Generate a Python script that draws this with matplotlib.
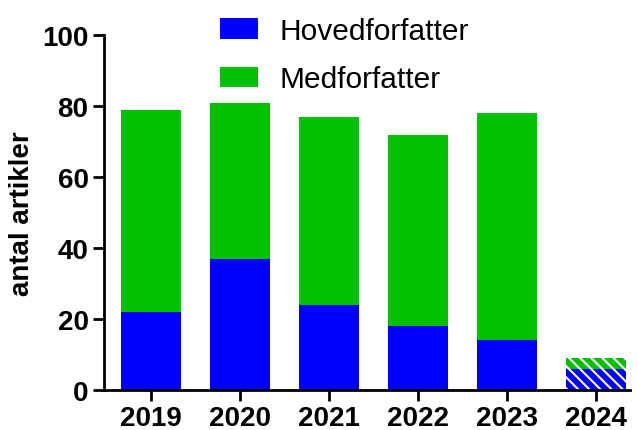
import matplotlib
matplotlib.use("Agg")
import matplotlib.pyplot as plt
import numpy as np

plt.rcParams['font.family'] = ['Liberation Sans', 'DejaVu Sans']
plt.rcParams['hatch.color'] = 'white'
plt.rcParams['hatch.linewidth'] = 1.5

years = ['2019', '2020', '2021', '2022', '2023', '2024']
hoved = [22, 37, 24, 18, 14, 6]
med = [57, 44, 53, 54, 64, 3]
blue = '#0000ff'
green = '#00c000'

fig = plt.figure(figsize=(6.37, 4.31), dpi=100)
ax = fig.add_axes([0.163, 0.093, 0.826, 0.823])

x = np.arange(len(years))
w = 0.68
hatches = [None] * 5 + ['\\\\\\']
for i in range(len(years)):
    ax.bar(x[i], hoved[i], w, color=blue, hatch=hatches[i], linewidth=0,
           label='Hovedforfatter' if i == 0 else None)
    ax.bar(x[i], med[i], w, bottom=hoved[i], color=green, hatch=hatches[i], linewidth=0,
           label='Medforfatter' if i == 0 else None)

ax.set_xlim(-0.53, 5.38)
ax.set_ylim(0, 100)
ax.set_yticks([0, 20, 40, 60, 80, 100])
ax.set_xticks(x)
ax.set_xticklabels(years)
ax.set_ylabel('antal artikler', fontsize=20, fontweight='bold', labelpad=5)
for lab in ax.get_xticklabels() + ax.get_yticklabels():
    lab.set_fontweight('bold')
ax.tick_params(axis='both', labelsize=20, width=2, length=8, direction='out', pad=3)
ax.spines['top'].set_visible(False)
ax.spines['right'].set_visible(False)
ax.spines['left'].set_linewidth(2)
ax.spines['bottom'].set_linewidth(2)

fig.legend(loc='upper left', bbox_to_anchor=(0.3454, 0.958), frameon=False, fontsize=21.5,
           handlelength=1.27, handleheight=0.67, labelspacing=0.68, handletextpad=0.73,
           borderpad=0, borderaxespad=0)

fig.savefig('out.png', dpi=100)
